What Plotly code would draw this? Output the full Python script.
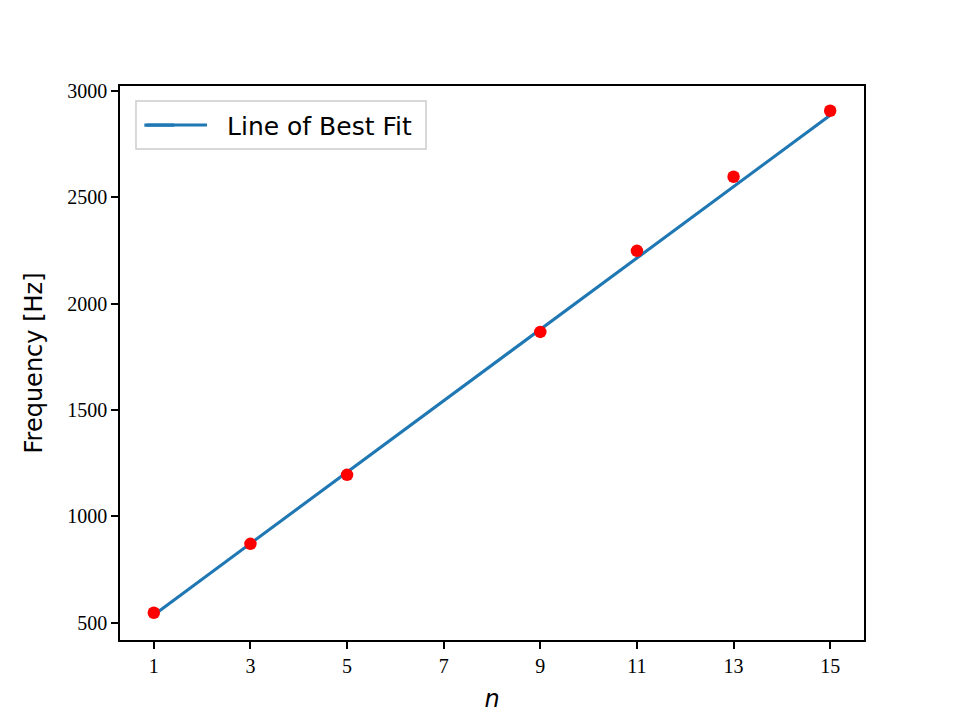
import plotly.graph_objects as go

n_values = [1, 3, 5, 9, 11, 13, 15]
freq_values = [547, 871, 1195, 1867, 2248, 2596, 2906]
fit_n = [1, 15]
fit_freq = [537, 2885]
x_ticks = [1, 3, 5, 7, 9, 11, 13, 15]
y_ticks = [500, 1000, 1500, 2000, 2500, 3000]

fig = go.Figure()
fig.add_trace(go.Scatter(
    x=fit_n, y=fit_freq, mode="lines",
    name="\u00a0\u00a0\u00a0\u00a0\u00a0\u00a0Line of Best Fit",
    line=dict(color="#1f77b4", width=3.1),
))
fig.add_trace(go.Scatter(
    x=n_values, y=freq_values, mode="markers", showlegend=False,
    marker=dict(color="red", size=12.5, line=dict(width=0)),
))

axis_common = dict(
    showgrid=False, zeroline=False, showline=True, mirror=True,
    linecolor="black", linewidth=1.6, ticks="outside", ticklen=7,
    tickwidth=1.6, tickcolor="black",
    tickfont=dict(family="Liberation Serif", size=20, color="black"),
)

# legend frame (matplotlib-style box)
fig.add_shape(
    type="rect", xref="paper", yref="paper",
    x0=0.0215, x1=0.4113, y0=0.8863, y1=0.9729,
    line=dict(color="#cccccc", width=1.5), fillcolor="rgba(255,255,255,0.8)",
    layer="below",
)
# longer legend handle, as in matplotlib
fig.add_shape(
    type="line", xref="paper", yref="paper",
    x0=0.0363, x1=0.1169, y0=0.9296, y1=0.9296,
    line=dict(color="#1f77b4", width=3.1),
)

fig.update_layout(
    width=960, height=720,
    margin=dict(l=120, r=96, t=86, b=80),
    plot_bgcolor="white", paper_bgcolor="white",
    showlegend=True,
    legend=dict(
        x=0.026, y=0.929, xanchor="left", yanchor="middle",
        bgcolor="rgba(0,0,0,0)", borderwidth=0,
        font=dict(family="DejaVu Sans", size=25, color="black"),
    ),
    xaxis=dict(
        range=[0.3, 15.7], tickvals=x_ticks, ticktext=[str(v) for v in x_ticks],
        title=dict(text="<i>n</i>", font=dict(family="DejaVu Sans", size=24, color="black"), standoff=14),
        **axis_common,
    ),
    yaxis=dict(
        range=[419, 3022.5], tickvals=y_ticks, ticktext=[str(v) for v in y_ticks],
        title=dict(text="Frequency [Hz]", font=dict(family="DejaVu Sans", size=24, color="black"), standoff=18),
        **axis_common,
    ),
)

fig.write_html("out.html")
